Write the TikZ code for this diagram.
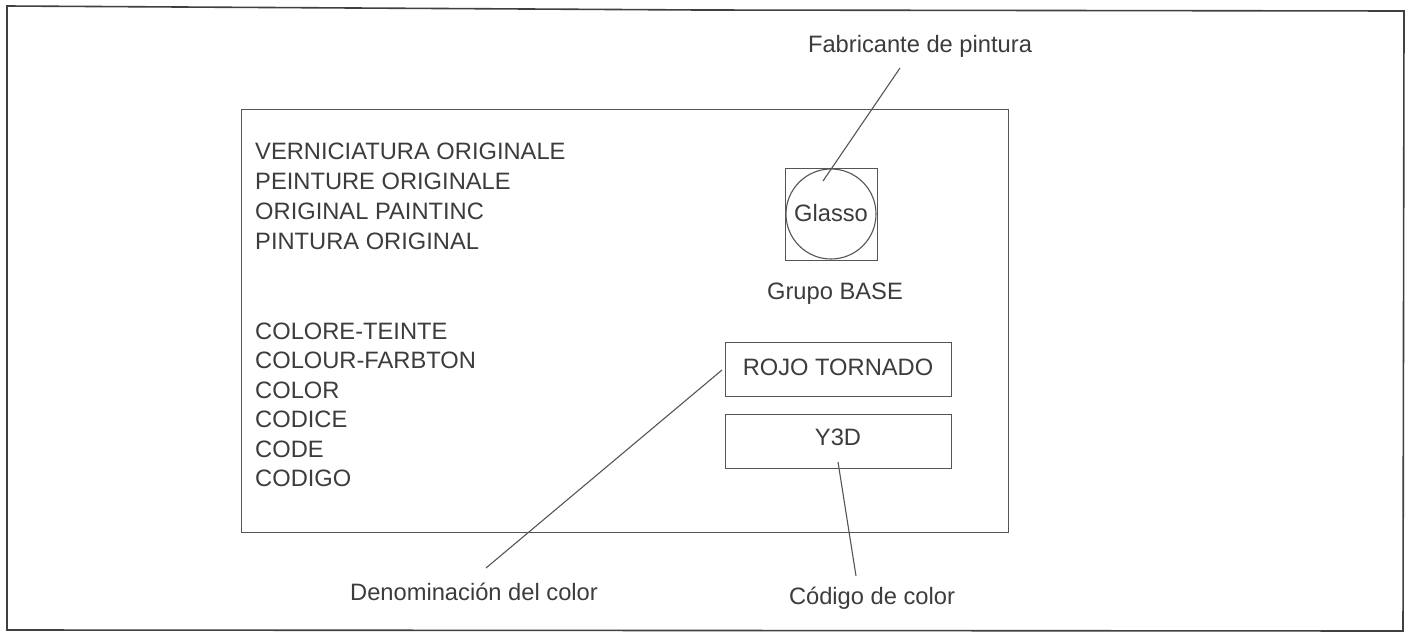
\documentclass[tikz,border=0pt]{standalone}
\usepackage{fontspec}
\setmainfont{Liberation Sans}
\definecolor{ink}{HTML}{3C3C3C}
\definecolor{rule}{HTML}{555555}
\tikzset{
  lab/.style={font=\fontsize{23.7}{24}\selectfont,text=ink,inner sep=0pt,anchor=base west},
  capt/.style={font=\fontsize{23.7}{24}\selectfont,text=ink,inner sep=0pt,anchor=base},
  leader/.style={draw=rule,line width=1.1pt},
  boxed/.style={draw=rule,line width=1.1pt,inner sep=0pt,anchor=north west},
}
\begin{document}
\begin{tikzpicture}[x=1pt,y=-1pt]
\useasboundingbox[fill=white] (0,0) rectangle (1408,632);
\draw[draw=black!75,line width=1.6pt] (7,6) -- (700,10) -- (1404,11) -- (1403,631) -- (7,630) -- cycle;
\node[boxed,minimum width=767pt,minimum height=423pt] (panel) at (241,109) {};
\node[lab] (v1) at (255,159.5) {VERNICIATURA ORIGINALE};
\node[lab] (v2) at (255,189.5) {PEINTURE ORIGINALE};
\node[lab] (v3) at (255,219) {ORIGINAL PAINTINC};
\node[lab] (v4) at (255,249) {PINTURA ORIGINAL};
\node[lab] (c1) at (255,339) {COLORE-TEINTE};
\node[lab] (c2) at (255,368) {COLOUR-FARBTON};
\node[lab] (c3) at (255,398) {COLOR};
\node[lab] (c4) at (255,427) {CODICE};
\node[lab] (c5) at (255,457) {CODE};
\node[lab] (c6) at (255,486) {CODIGO};
\node[boxed,minimum width=92pt,minimum height=92pt] (sq) at (785,168) {};
\node[draw=rule,line width=1.1pt,circle,minimum size=90pt,inner sep=0pt] (ci) at (831,214) {};
\node[capt] (gl) at (831,221) {Glasso};
\node[capt] (gb) at (835,299) {Grupo BASE};
\node[boxed,minimum width=226pt,minimum height=54pt] (b1) at (725,342) {};
\node[capt] (rt) at (838,375) {ROJO TORNADO};
\node[boxed,minimum width=226pt,minimum height=54pt] (b2) at (725,414) {};
\node[capt] (y3) at (838,445) {Y3D};
\node[capt] (fp) at (920,52) {Fabricante de pintura};
\node[capt] (dc) at (474,600) {Denominación del color};
\node[capt] (cc) at (872,604) {Código de color};
\coordinate (fpe) at (900,68);
\coordinate (gle) at (823,181);
\coordinate (dce) at (486,568);
\coordinate (rte) at (722,370);
\coordinate (cce) at (856,576);
\coordinate (y3e) at (838,462);
\draw[leader] (fpe) -- (gle);
\draw[leader] (dce) -- (rte);
\draw[leader] (cce) -- (y3e);
\end{tikzpicture}
\end{document}
